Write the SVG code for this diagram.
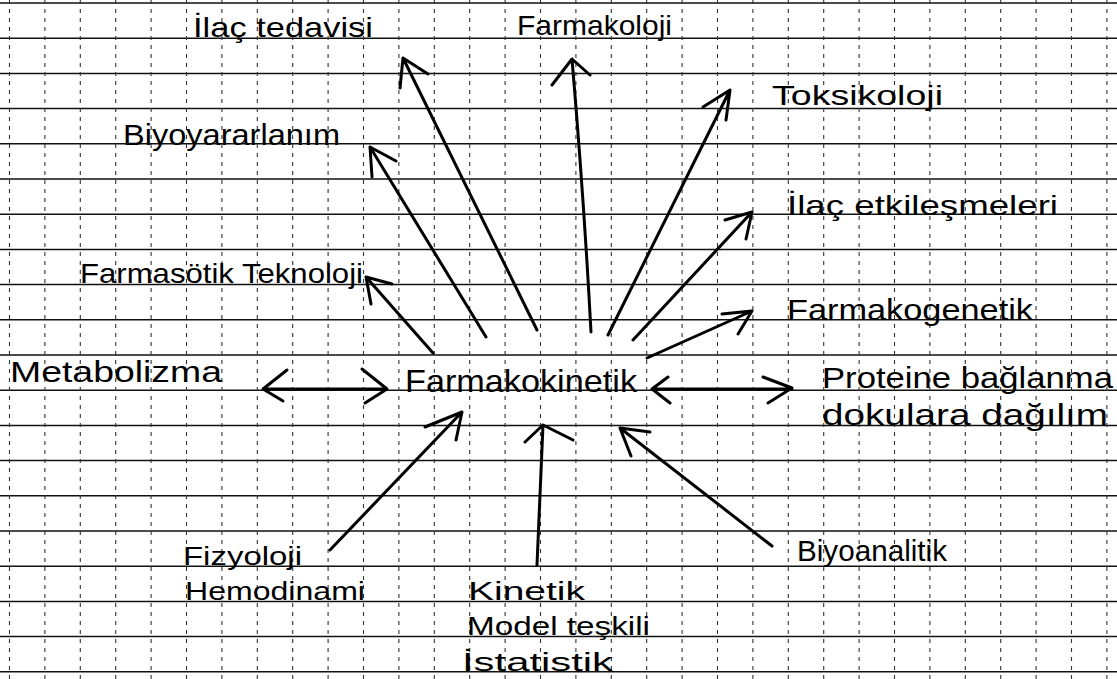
<svg xmlns="http://www.w3.org/2000/svg" width="1117" height="679" viewBox="0 0 1117 679">
<style>
.hg{stroke:#111;stroke-width:1.5;fill:none}
.vg{stroke:#333;stroke-width:1.1;stroke-dasharray:4 5;fill:none}
.ln{stroke:#000;stroke-width:3;fill:none;stroke-linecap:round;stroke-linejoin:round}
.t{font-family:"Liberation Sans","DejaVu Sans",sans-serif;fill:#000;font-size:28px}
</style>
<rect width="1117" height="679" fill="#fff"/>
<g id="grid">
<path class="hg" d="M0 3H1117M0 38.2H1117M0 73.4H1117M0 108.6H1117M0 143.8H1117M0 179H1117M0 214.2H1117M0 249.4H1117M0 284.6H1117M0 319.8H1117M0 355H1117M0 390.2H1117M0 425.4H1117M0 460.6H1117M0 495.8H1117M0 531H1117M0 566.2H1117M0 601.4H1117M0 636.6H1117M0 671.8H1117"/>
<path class="vg" d="M9.5 0V679M44.9 0V679M80.3 0V679M115.7 0V679M151.1 0V679M186.5 0V679M221.9 0V679M257.3 0V679M292.7 0V679M328.1 0V679M363.5 0V679M398.9 0V679M434.3 0V679M469.7 0V679M505.1 0V679M540.5 0V679M575.9 0V679M611.3 0V679M646.7 0V679M682.1 0V679M717.5 0V679M752.9 0V679M788.3 0V679M823.7 0V679M859.1 0V679M894.5 0V679M929.9 0V679M965.3 0V679M1000.7 0V679M1036.1 0V679M1071.5 0V679M1106.9 0V679"/>
</g>
<g id="connectors">
<path class="ln" d="M537 330L403 58M428 74L403 58L400 88"/>
<path class="ln" d="M486 337L370 147M396 161L370 147L372 177"/>
<path class="ln" d="M591 332Q584 200 572 59M552 85L572 59L590 75"/>
<path class="ln" d="M608 335Q640 270 730 90M703 107L730 90L726 120"/>
<path class="ln" d="M633 340L752 212M725 220L752 212L746 239"/>
<path class="ln" d="M647 358L752 311M722 314L752 311L738 334"/>
<path class="ln" d="M433 353L366 277M392 284L366 277L371 304"/>
<path class="ln" d="M263 389H387M287 370L263 389L283 401M362 369L387 389L365 403"/>
<path class="ln" d="M652 389H792M668 377L652 389L670 403M763 377L792 388L768 403"/>
<path class="ln" d="M330 550L462 412M425 427L462 412L456 440"/>
<path class="ln" d="M537 565L543 425M525 442L543 425L573 440"/>
<path class="ln" d="M772 546L620 428M650 432L620 428L631 456"/>
</g>
<g id="n-ilac-tedavisi"><text class="t" x="193" y="37" textLength="180" lengthAdjust="spacingAndGlyphs">İlaç tedavisi</text></g>
<g id="n-farmakoloji"><text class="t" x="517" y="35" textLength="155" lengthAdjust="spacingAndGlyphs">Farmakoloji</text></g>
<g id="n-toksikoloji"><text class="t" x="772" y="105" textLength="171" lengthAdjust="spacingAndGlyphs">Toksikoloji</text></g>
<g id="n-biyoyararlanim"><text class="t" x="123" y="145" textLength="217" lengthAdjust="spacingAndGlyphs" style="font-size:30px">Biyoyararlanım</text></g>
<g id="n-ilac-etkilesmeleri"><text class="t" x="787" y="215" textLength="271" lengthAdjust="spacingAndGlyphs">İlaç etkileşmeleri</text></g>
<g id="n-farmasotik"><text class="t" x="80" y="283" textLength="283" lengthAdjust="spacingAndGlyphs">Farmasötik Teknoloji</text></g>
<g id="n-farmakogenetik"><text class="t" x="787" y="320" textLength="246" lengthAdjust="spacingAndGlyphs" style="font-size:30px">Farmakogenetik</text></g>
<g id="n-metabolizma"><text class="t" x="10" y="382" textLength="212" lengthAdjust="spacingAndGlyphs" style="font-size:30px">Metabolizma</text></g>
<g id="n-farmakokinetik"><text class="t" x="405" y="392" textLength="232" lengthAdjust="spacingAndGlyphs" style="font-size:32px">Farmakokinetik</text></g>
<g id="n-proteine"><text class="t" x="822" y="388" textLength="291" lengthAdjust="spacingAndGlyphs" style="font-size:30px">Proteine bağlanma</text><text class="t" x="822" y="425" textLength="286" lengthAdjust="spacingAndGlyphs" style="font-size:30px">dokulara dağılım</text></g>
<g id="n-fizyoloji"><text class="t" x="183" y="565" textLength="119" lengthAdjust="spacingAndGlyphs" style="font-size:26px">Fizyoloji</text><text class="t" x="185" y="600" textLength="180" lengthAdjust="spacingAndGlyphs" style="font-size:26px">Hemodinami</text></g>
<g id="n-kinetik"><text class="t" x="468" y="600" textLength="117" lengthAdjust="spacingAndGlyphs" style="font-size:26px">Kinetik</text><text class="t" x="467" y="635" textLength="183" lengthAdjust="spacingAndGlyphs" style="font-size:26px">Model teşkili</text><text class="t" x="462" y="671" textLength="151" lengthAdjust="spacingAndGlyphs" style="font-size:26px">İstatistik</text></g>
<g id="n-biyoanalitik"><text class="t" x="797" y="561" textLength="150" lengthAdjust="spacingAndGlyphs" style="font-size:30px">Biyoanalitik</text></g>
</svg>
